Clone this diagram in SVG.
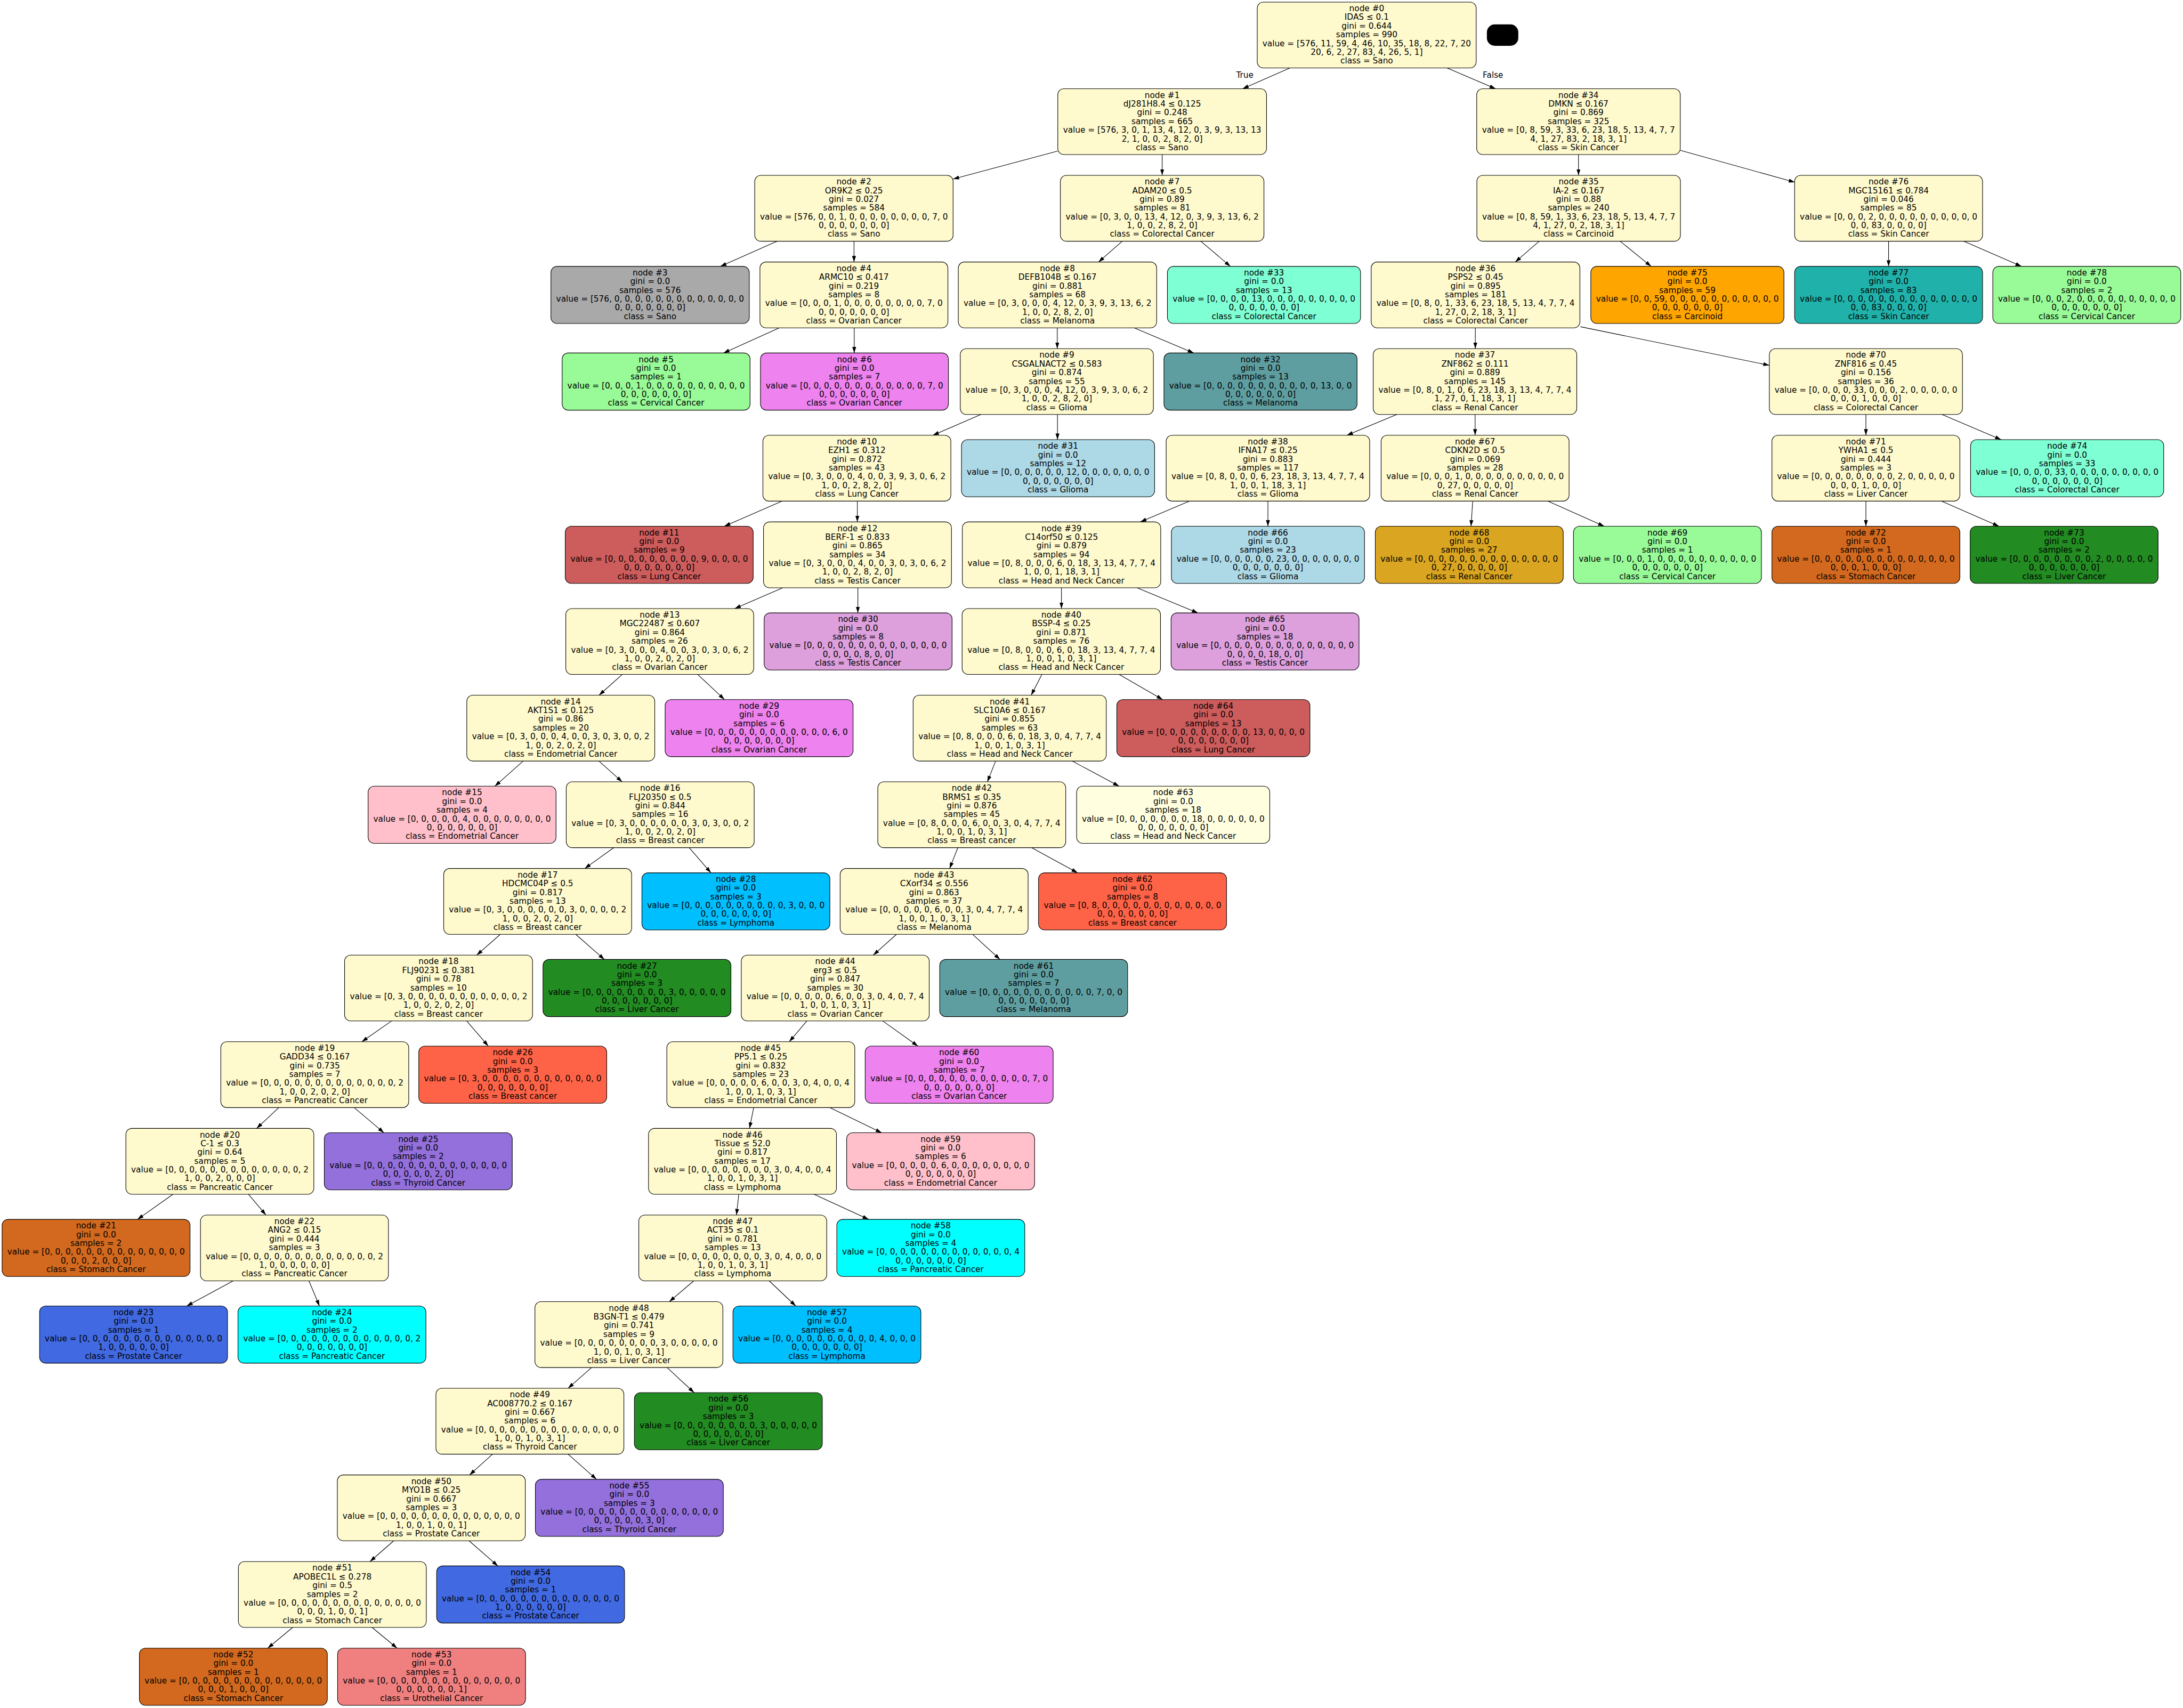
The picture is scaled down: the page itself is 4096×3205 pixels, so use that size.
<svg xmlns="http://www.w3.org/2000/svg" width="4096" height="3205" viewBox="0 0 4096 3205">
<style>
.nd rect{stroke:#000;stroke-width:1.34}
text{font-family:"DejaVu Sans","Liberation Sans",sans-serif;font-size:18.7px;text-anchor:middle;fill:#000}
.e line{stroke:#000;stroke-width:1.34;marker-end:url(#arr)}
.i{fill:#fffacd}.sano{fill:#a9a9a9}.cerv{fill:#98fb98}.ova{fill:#ee82ee}.colo{fill:#7fffd4}.mel{fill:#5f9ea0}.gli{fill:#add8e6}.lung{fill:#cd5c5c}.test{fill:#dda0dd}.endo{fill:#ffc0cb}.lym{fill:#00bfff}.liv{fill:#228b22}.bre{fill:#ff6347}.thy{fill:#9370db}.sto{fill:#d2691e}.pro{fill:#4169e1}.pan{fill:#00ffff}.uro{fill:#f08080}.carc{fill:#ffa500}.skin{fill:#20b2aa}.ren{fill:#daa520}.hn{fill:#ffffe0}
</style>
<defs>
<marker id="arr" markerUnits="userSpaceOnUse" viewBox="0 0 14 10" refX="14" refY="5" markerWidth="14" markerHeight="10" orient="auto"><path d="M0,0.5 L14,5 L0,9.5 z" fill="#000"/></marker>
</defs>
<rect x="0" y="0" width="4096" height="3205" fill="#fff"/>
<g transform="scale(0.818382)">
<g id="edges" class="e">
<line x1="2957.5" y1="155.8" x2="2849" y2="203.5"/>
<line x1="3317.5" y1="155.8" x2="3429" y2="203.5"/>
<line x1="2425" y1="346.5" x2="2185" y2="410.5"/>
<line x1="2664.5" y1="354.5" x2="2664.5" y2="402"/>
<line x1="3619" y1="354.5" x2="3619" y2="402"/>
<line x1="3852" y1="344.7" x2="4115" y2="417.8"/>
<line x1="1781.4" y1="553.1" x2="1651.8" y2="610.8"/>
<line x1="1958" y1="553.1" x2="1958" y2="600.8"/>
<line x1="2573" y1="553.1" x2="2518.6" y2="600.8"/>
<line x1="2753" y1="553.1" x2="2821" y2="610.8"/>
<line x1="3529" y1="553.1" x2="3474" y2="600.8"/>
<line x1="3714.5" y1="553.1" x2="3785.6" y2="610.8"/>
<line x1="4330" y1="553.1" x2="4330" y2="610.8"/>
<line x1="4502.6" y1="553.1" x2="4634.7" y2="610.8"/>
<line x1="1786.6" y1="751.8" x2="1658.8" y2="809.4"/>
<line x1="1958.5" y1="751.8" x2="1958.5" y2="809.4"/>
<line x1="2424" y1="751.8" x2="2424" y2="799.4"/>
<line x1="2600.4" y1="751.8" x2="2737" y2="809.4"/>
<line x1="3382.5" y1="751.8" x2="3382.5" y2="799.4"/>
<line x1="3623.6" y1="749.2" x2="4056.7" y2="837.7"/>
<line x1="2248.8" y1="950.4" x2="2138.8" y2="998"/>
<line x1="2424.5" y1="950.4" x2="2424.5" y2="1008"/>
<line x1="3202.4" y1="950.4" x2="3088" y2="998"/>
<line x1="3382" y1="950.4" x2="3382" y2="998"/>
<line x1="4278" y1="950.4" x2="4278" y2="998"/>
<line x1="4452.4" y1="950.4" x2="4588" y2="1008"/>
<line x1="1793.3" y1="1149" x2="1660.7" y2="1206.7"/>
<line x1="1965.6" y1="1149" x2="1965.6" y2="1196.7"/>
<line x1="2727.4" y1="1149" x2="2614.6" y2="1196.7"/>
<line x1="2907" y1="1149" x2="2907" y2="1206.7"/>
<line x1="3376.5" y1="1149" x2="3372.7" y2="1206.7"/>
<line x1="3548.7" y1="1149" x2="3678" y2="1206.7"/>
<line x1="4278" y1="1149" x2="4278" y2="1206.7"/>
<line x1="4451" y1="1149" x2="4583" y2="1206.7"/>
<line x1="1794.5" y1="1347.7" x2="1684.5" y2="1395.4"/>
<line x1="1966.8" y1="1347.7" x2="1966.8" y2="1405.4"/>
<line x1="2433.6" y1="1347.7" x2="2433.6" y2="1395.4"/>
<line x1="2607" y1="1347.7" x2="2746.5" y2="1405.4"/>
<line x1="1426.7" y1="1546.4" x2="1373.5" y2="1594"/>
<line x1="1599.6" y1="1546.4" x2="1661" y2="1604"/>
<line x1="2388.8" y1="1546.4" x2="2364.2" y2="1594"/>
<line x1="2565.9" y1="1546.4" x2="2665.6" y2="1604"/>
<line x1="1199.5" y1="1745" x2="1134.5" y2="1802.7"/>
<line x1="1373.2" y1="1745" x2="1426.5" y2="1792.7"/>
<line x1="2282.6" y1="1745" x2="2263.8" y2="1792.7"/>
<line x1="2458.2" y1="1745" x2="2565.9" y2="1802.7"/>
<line x1="1407" y1="1943.7" x2="1340.7" y2="1991.3"/>
<line x1="1580.1" y1="1943.7" x2="1630" y2="2001.3"/>
<line x1="2196" y1="1943.7" x2="2177.2" y2="1991.3"/>
<line x1="2365.5" y1="1943.7" x2="2470.6" y2="2001.3"/>
<line x1="1147" y1="2142.3" x2="1093" y2="2190"/>
<line x1="1320" y1="2142.3" x2="1385.7" y2="2200"/>
<line x1="2055.5" y1="2142.3" x2="2002.1" y2="2190"/>
<line x1="2229.8" y1="2142.3" x2="2292.8" y2="2200"/>
<line x1="897.7" y1="2341" x2="829.5" y2="2388.6"/>
<line x1="1070.1" y1="2341" x2="1119.5" y2="2398.6"/>
<line x1="1849.8" y1="2341" x2="1809.5" y2="2388.6"/>
<line x1="2024" y1="2341" x2="2104.6" y2="2398.6"/>
<line x1="639.3" y1="2539.6" x2="588.3" y2="2587.3"/>
<line x1="812.1" y1="2539.6" x2="880.2" y2="2597.3"/>
<line x1="1728" y1="2539.6" x2="1718.4" y2="2587.3"/>
<line x1="1902.3" y1="2539.6" x2="2021.4" y2="2597.3"/>
<line x1="396.7" y1="2738.3" x2="315.2" y2="2795.9"/>
<line x1="569.5" y1="2738.3" x2="609.8" y2="2785.9"/>
<line x1="1693.8" y1="2738.3" x2="1688.5" y2="2785.9"/>
<line x1="1866.3" y1="2738.3" x2="1991.5" y2="2795.9"/>
<line x1="534.6" y1="2936.9" x2="428" y2="2994.6"/>
<line x1="708.3" y1="2936.9" x2="732.4" y2="2994.6"/>
<line x1="1590.5" y1="2936.9" x2="1534.5" y2="2984.6"/>
<line x1="1763.5" y1="2936.9" x2="1824.6" y2="2994.6"/>
<line x1="1356.4" y1="3135.6" x2="1302.4" y2="3183.2"/>
<line x1="1529.4" y1="3135.6" x2="1591.5" y2="3193.2"/>
<line x1="1129.4" y1="3334.2" x2="1076.5" y2="3381.9"/>
<line x1="1302.4" y1="3334.2" x2="1367.6" y2="3391.9"/>
<line x1="902.7" y1="3532.9" x2="848.2" y2="3580.5"/>
<line x1="1075.4" y1="3532.9" x2="1141.4" y2="3590.5"/>
<line x1="671.2" y1="3731.5" x2="613.8" y2="3779.1"/>
<line x1="853" y1="3731.5" x2="910.5" y2="3779.1"/>
</g>
<g id="edge-labels">
<text x="2854" y="178.4">True</text>
<text x="3423" y="178.4">False</text>
</g>
<rect id="legend-box" x="3409" y="56" width="72" height="49" rx="18" fill="#000"/>
<g id="node-0" class="nd"><rect class="i" x="2882.5" y="4.8" width="502" height="151" rx="14"/><text y="25.8"><tspan x="3133.5">node #0</tspan><tspan x="3133.5" dy="20">IDAS ≤ 0.1</tspan><tspan x="3133.5" dy="20">gini = 0.644</tspan><tspan x="3133.5" dy="20">samples = 990</tspan><tspan x="3133.5" dy="20">value = [576, 11, 59, 4, 46, 10, 35, 18, 8, 22, 7, 20</tspan><tspan x="3133.5" dy="20">20, 6, 2, 27, 83, 4, 26, 5, 1]</tspan><tspan x="3133.5" dy="20">class = Sano</tspan></text></g>
<g id="node-1" class="nd"><rect class="i" x="2425.2" y="203.45" width="478.6" height="151" rx="14"/><text y="224.45"><tspan x="2664.5">node #1</tspan><tspan x="2664.5" dy="20">dJ281H8.4 ≤ 0.125</tspan><tspan x="2664.5" dy="20">gini = 0.248</tspan><tspan x="2664.5" dy="20">samples = 665</tspan><tspan x="2664.5" dy="20">value = [576, 3, 0, 1, 13, 4, 12, 0, 3, 9, 3, 13, 13</tspan><tspan x="2664.5" dy="20">2, 1, 0, 0, 2, 8, 2, 0]</tspan><tspan x="2664.5" dy="20">class = Sano</tspan></text></g>
<g id="node-34" class="nd"><rect class="i" x="3385.65" y="203.45" width="466.7" height="151" rx="14"/><text y="224.45"><tspan x="3619">node #34</tspan><tspan x="3619" dy="20">DMKN ≤ 0.167</tspan><tspan x="3619" dy="20">gini = 0.869</tspan><tspan x="3619" dy="20">samples = 325</tspan><tspan x="3619" dy="20">value = [0, 8, 59, 3, 33, 6, 23, 18, 5, 13, 4, 7, 7</tspan><tspan x="3619" dy="20">4, 1, 27, 83, 2, 18, 3, 1]</tspan><tspan x="3619" dy="20">class = Skin Cancer</tspan></text></g>
<g id="node-2" class="nd"><rect class="i" x="1730.4" y="402.1" width="454.8" height="151" rx="14"/><text y="423.1"><tspan x="1957.8">node #2</tspan><tspan x="1957.8" dy="20">OR9K2 ≤ 0.25</tspan><tspan x="1957.8" dy="20">gini = 0.027</tspan><tspan x="1957.8" dy="20">samples = 584</tspan><tspan x="1957.8" dy="20">value = [576, 0, 0, 1, 0, 0, 0, 0, 0, 0, 0, 0, 7, 0</tspan><tspan x="1957.8" dy="20">0, 0, 0, 0, 0, 0, 0]</tspan><tspan x="1957.8" dy="20">class = Sano</tspan></text></g>
<g id="node-7" class="nd"><rect class="i" x="2431.15" y="402.1" width="466.7" height="151" rx="14"/><text y="423.1"><tspan x="2664.5">node #7</tspan><tspan x="2664.5" dy="20">ADAM20 ≤ 0.5</tspan><tspan x="2664.5" dy="20">gini = 0.89</tspan><tspan x="2664.5" dy="20">samples = 81</tspan><tspan x="2664.5" dy="20">value = [0, 3, 0, 0, 13, 4, 12, 0, 3, 9, 3, 13, 6, 2</tspan><tspan x="2664.5" dy="20">1, 0, 0, 2, 8, 2, 0]</tspan><tspan x="2664.5" dy="20">class = Colorectal Cancer</tspan></text></g>
<g id="node-35" class="nd"><rect class="i" x="3386.05" y="402.1" width="466.7" height="151" rx="14"/><text y="423.1"><tspan x="3619.4">node #35</tspan><tspan x="3619.4" dy="20">IA-2 ≤ 0.167</tspan><tspan x="3619.4" dy="20">gini = 0.88</tspan><tspan x="3619.4" dy="20">samples = 240</tspan><tspan x="3619.4" dy="20">value = [0, 8, 59, 1, 33, 6, 23, 18, 5, 13, 4, 7, 7</tspan><tspan x="3619.4" dy="20">4, 1, 27, 0, 2, 18, 3, 1]</tspan><tspan x="3619.4" dy="20">class = Carcinoid</tspan></text></g>
<g id="node-76" class="nd"><rect class="i" x="4114.55" y="402.1" width="430.9" height="151" rx="14"/><text y="423.1"><tspan x="4330">node #76</tspan><tspan x="4330" dy="20">MGC15161 ≤ 0.784</tspan><tspan x="4330" dy="20">gini = 0.046</tspan><tspan x="4330" dy="20">samples = 85</tspan><tspan x="4330" dy="20">value = [0, 0, 0, 2, 0, 0, 0, 0, 0, 0, 0, 0, 0, 0</tspan><tspan x="4330" dy="20">0, 0, 83, 0, 0, 0, 0]</tspan><tspan x="4330" dy="20">class = Skin Cancer</tspan></text></g>
<g id="node-3" class="nd"><rect class="sano" x="1263.1" y="610.75" width="454.8" height="131" rx="14"/><text y="631.75"><tspan x="1490.5">node #3</tspan><tspan x="1490.5" dy="20">gini = 0.0</tspan><tspan x="1490.5" dy="20">samples = 576</tspan><tspan x="1490.5" dy="20">value = [576, 0, 0, 0, 0, 0, 0, 0, 0, 0, 0, 0, 0, 0</tspan><tspan x="1490.5" dy="20">0, 0, 0, 0, 0, 0, 0]</tspan><tspan x="1490.5" dy="20">class = Sano</tspan></text></g>
<g id="node-4" class="nd"><rect class="i" x="1742.35" y="600.75" width="430.9" height="151" rx="14"/><text y="621.75"><tspan x="1957.8">node #4</tspan><tspan x="1957.8" dy="20">ARMC10 ≤ 0.417</tspan><tspan x="1957.8" dy="20">gini = 0.219</tspan><tspan x="1957.8" dy="20">samples = 8</tspan><tspan x="1957.8" dy="20">value = [0, 0, 0, 1, 0, 0, 0, 0, 0, 0, 0, 0, 7, 0</tspan><tspan x="1957.8" dy="20">0, 0, 0, 0, 0, 0, 0]</tspan><tspan x="1957.8" dy="20">class = Ovarian Cancer</tspan></text></g>
<g id="node-8" class="nd"><rect class="i" x="2197.1" y="600.75" width="454.8" height="151" rx="14"/><text y="621.75"><tspan x="2424.5">node #8</tspan><tspan x="2424.5" dy="20">DEFB104B ≤ 0.167</tspan><tspan x="2424.5" dy="20">gini = 0.881</tspan><tspan x="2424.5" dy="20">samples = 68</tspan><tspan x="2424.5" dy="20">value = [0, 3, 0, 0, 0, 4, 12, 0, 3, 9, 3, 13, 6, 2</tspan><tspan x="2424.5" dy="20">1, 0, 0, 2, 8, 2, 0]</tspan><tspan x="2424.5" dy="20">class = Melanoma</tspan></text></g>
<g id="node-33" class="nd"><rect class="colo" x="2676.6" y="610.75" width="442.8" height="131" rx="14"/><text y="631.75"><tspan x="2898">node #33</tspan><tspan x="2898" dy="20">gini = 0.0</tspan><tspan x="2898" dy="20">samples = 13</tspan><tspan x="2898" dy="20">value = [0, 0, 0, 0, 13, 0, 0, 0, 0, 0, 0, 0, 0, 0</tspan><tspan x="2898" dy="20">0, 0, 0, 0, 0, 0, 0]</tspan><tspan x="2898" dy="20">class = Colorectal Cancer</tspan></text></g>
<g id="node-36" class="nd"><rect class="i" x="3143.7" y="600.75" width="478.6" height="151" rx="14"/><text y="621.75"><tspan x="3383">node #36</tspan><tspan x="3383" dy="20">PSPS2 ≤ 0.45</tspan><tspan x="3383" dy="20">gini = 0.895</tspan><tspan x="3383" dy="20">samples = 181</tspan><tspan x="3383" dy="20">value = [0, 8, 0, 1, 33, 6, 23, 18, 5, 13, 4, 7, 7, 4</tspan><tspan x="3383" dy="20">1, 27, 0, 2, 18, 3, 1]</tspan><tspan x="3383" dy="20">class = Colorectal Cancer</tspan></text></g>
<g id="node-75" class="nd"><rect class="carc" x="3647.3" y="610.75" width="442.8" height="131" rx="14"/><text y="631.75"><tspan x="3868.7">node #75</tspan><tspan x="3868.7" dy="20">gini = 0.0</tspan><tspan x="3868.7" dy="20">samples = 59</tspan><tspan x="3868.7" dy="20">value = [0, 0, 59, 0, 0, 0, 0, 0, 0, 0, 0, 0, 0, 0</tspan><tspan x="3868.7" dy="20">0, 0, 0, 0, 0, 0, 0]</tspan><tspan x="3868.7" dy="20">class = Carcinoid</tspan></text></g>
<g id="node-77" class="nd"><rect class="skin" x="4114.55" y="610.75" width="430.9" height="131" rx="14"/><text y="631.75"><tspan x="4330">node #77</tspan><tspan x="4330" dy="20">gini = 0.0</tspan><tspan x="4330" dy="20">samples = 83</tspan><tspan x="4330" dy="20">value = [0, 0, 0, 0, 0, 0, 0, 0, 0, 0, 0, 0, 0, 0</tspan><tspan x="4330" dy="20">0, 0, 83, 0, 0, 0, 0]</tspan><tspan x="4330" dy="20">class = Skin Cancer</tspan></text></g>
<g id="node-78" class="nd"><rect class="cerv" x="4568.95" y="610.75" width="430.9" height="131" rx="14"/><text y="631.75"><tspan x="4784.4">node #78</tspan><tspan x="4784.4" dy="20">gini = 0.0</tspan><tspan x="4784.4" dy="20">samples = 2</tspan><tspan x="4784.4" dy="20">value = [0, 0, 0, 2, 0, 0, 0, 0, 0, 0, 0, 0, 0, 0</tspan><tspan x="4784.4" dy="20">0, 0, 0, 0, 0, 0, 0]</tspan><tspan x="4784.4" dy="20">class = Cervical Cancer</tspan></text></g>
<g id="node-5" class="nd"><rect class="cerv" x="1288.85" y="809.4" width="430.9" height="131" rx="14"/><text y="830.4"><tspan x="1504.3">node #5</tspan><tspan x="1504.3" dy="20">gini = 0.0</tspan><tspan x="1504.3" dy="20">samples = 1</tspan><tspan x="1504.3" dy="20">value = [0, 0, 0, 1, 0, 0, 0, 0, 0, 0, 0, 0, 0, 0</tspan><tspan x="1504.3" dy="20">0, 0, 0, 0, 0, 0, 0]</tspan><tspan x="1504.3" dy="20">class = Cervical Cancer</tspan></text></g>
<g id="node-6" class="nd"><rect class="ova" x="1743.55" y="809.4" width="430.9" height="131" rx="14"/><text y="830.4"><tspan x="1959">node #6</tspan><tspan x="1959" dy="20">gini = 0.0</tspan><tspan x="1959" dy="20">samples = 7</tspan><tspan x="1959" dy="20">value = [0, 0, 0, 0, 0, 0, 0, 0, 0, 0, 0, 0, 7, 0</tspan><tspan x="1959" dy="20">0, 0, 0, 0, 0, 0, 0]</tspan><tspan x="1959" dy="20">class = Ovarian Cancer</tspan></text></g>
<g id="node-9" class="nd"><rect class="i" x="2201.6" y="799.4" width="442.8" height="151" rx="14"/><text y="820.4"><tspan x="2423">node #9</tspan><tspan x="2423" dy="20">CSGALNACT2 ≤ 0.583</tspan><tspan x="2423" dy="20">gini = 0.874</tspan><tspan x="2423" dy="20">samples = 55</tspan><tspan x="2423" dy="20">value = [0, 3, 0, 0, 0, 4, 12, 0, 3, 9, 3, 0, 6, 2</tspan><tspan x="2423" dy="20">1, 0, 0, 2, 8, 2, 0]</tspan><tspan x="2423" dy="20">class = Glioma</tspan></text></g>
<g id="node-32" class="nd"><rect class="mel" x="2668.6" y="809.4" width="442.8" height="131" rx="14"/><text y="830.4"><tspan x="2890">node #32</tspan><tspan x="2890" dy="20">gini = 0.0</tspan><tspan x="2890" dy="20">samples = 13</tspan><tspan x="2890" dy="20">value = [0, 0, 0, 0, 0, 0, 0, 0, 0, 0, 0, 13, 0, 0</tspan><tspan x="2890" dy="20">0, 0, 0, 0, 0, 0, 0]</tspan><tspan x="2890" dy="20">class = Melanoma</tspan></text></g>
<g id="node-37" class="nd"><rect class="i" x="3148.35" y="799.4" width="466.7" height="151" rx="14"/><text y="820.4"><tspan x="3381.7">node #37</tspan><tspan x="3381.7" dy="20">ZNF862 ≤ 0.111</tspan><tspan x="3381.7" dy="20">gini = 0.889</tspan><tspan x="3381.7" dy="20">samples = 145</tspan><tspan x="3381.7" dy="20">value = [0, 8, 0, 1, 0, 6, 23, 18, 3, 13, 4, 7, 7, 4</tspan><tspan x="3381.7" dy="20">1, 27, 0, 1, 18, 3, 1]</tspan><tspan x="3381.7" dy="20">class = Renal Cancer</tspan></text></g>
<g id="node-70" class="nd"><rect class="i" x="4056.6" y="799.4" width="442.8" height="151" rx="14"/><text y="820.4"><tspan x="4278">node #70</tspan><tspan x="4278" dy="20">ZNF816 ≤ 0.45</tspan><tspan x="4278" dy="20">gini = 0.156</tspan><tspan x="4278" dy="20">samples = 36</tspan><tspan x="4278" dy="20">value = [0, 0, 0, 0, 33, 0, 0, 0, 2, 0, 0, 0, 0, 0</tspan><tspan x="4278" dy="20">0, 0, 0, 1, 0, 0, 0]</tspan><tspan x="4278" dy="20">class = Colorectal Cancer</tspan></text></g>
<g id="node-10" class="nd"><rect class="i" x="1749.15" y="998.05" width="430.9" height="151" rx="14"/><text y="1019.05"><tspan x="1964.6">node #10</tspan><tspan x="1964.6" dy="20">EZH1 ≤ 0.312</tspan><tspan x="1964.6" dy="20">gini = 0.872</tspan><tspan x="1964.6" dy="20">samples = 43</tspan><tspan x="1964.6" dy="20">value = [0, 3, 0, 0, 0, 4, 0, 0, 3, 9, 3, 0, 6, 2</tspan><tspan x="1964.6" dy="20">1, 0, 0, 2, 8, 2, 0]</tspan><tspan x="1964.6" dy="20">class = Lung Cancer</tspan></text></g>
<g id="node-31" class="nd"><rect class="gli" x="2204.4" y="1008.05" width="442.8" height="131" rx="14"/><text y="1029.05"><tspan x="2425.8">node #31</tspan><tspan x="2425.8" dy="20">gini = 0.0</tspan><tspan x="2425.8" dy="20">samples = 12</tspan><tspan x="2425.8" dy="20">value = [0, 0, 0, 0, 0, 0, 12, 0, 0, 0, 0, 0, 0, 0</tspan><tspan x="2425.8" dy="20">0, 0, 0, 0, 0, 0, 0]</tspan><tspan x="2425.8" dy="20">class = Glioma</tspan></text></g>
<g id="node-38" class="nd"><rect class="i" x="2673.65" y="998.05" width="466.7" height="151" rx="14"/><text y="1019.05"><tspan x="2907">node #38</tspan><tspan x="2907" dy="20">IFNA17 ≤ 0.25</tspan><tspan x="2907" dy="20">gini = 0.883</tspan><tspan x="2907" dy="20">samples = 117</tspan><tspan x="2907" dy="20">value = [0, 8, 0, 0, 0, 6, 23, 18, 3, 13, 4, 7, 7, 4</tspan><tspan x="2907" dy="20">1, 0, 0, 1, 18, 3, 1]</tspan><tspan x="2907" dy="20">class = Glioma</tspan></text></g>
<g id="node-67" class="nd"><rect class="i" x="3166.55" y="998.05" width="430.9" height="151" rx="14"/><text y="1019.05"><tspan x="3382">node #67</tspan><tspan x="3382" dy="20">CDKN2D ≤ 0.5</tspan><tspan x="3382" dy="20">gini = 0.069</tspan><tspan x="3382" dy="20">samples = 28</tspan><tspan x="3382" dy="20">value = [0, 0, 0, 1, 0, 0, 0, 0, 0, 0, 0, 0, 0, 0</tspan><tspan x="3382" dy="20">0, 27, 0, 0, 0, 0, 0]</tspan><tspan x="3382" dy="20">class = Renal Cancer</tspan></text></g>
<g id="node-71" class="nd"><rect class="i" x="4062.55" y="998.05" width="430.9" height="151" rx="14"/><text y="1019.05"><tspan x="4278">node #71</tspan><tspan x="4278" dy="20">YWHA1 ≤ 0.5</tspan><tspan x="4278" dy="20">gini = 0.444</tspan><tspan x="4278" dy="20">samples = 3</tspan><tspan x="4278" dy="20">value = [0, 0, 0, 0, 0, 0, 0, 0, 2, 0, 0, 0, 0, 0</tspan><tspan x="4278" dy="20">0, 0, 0, 1, 0, 0, 0]</tspan><tspan x="4278" dy="20">class = Liver Cancer</tspan></text></g>
<g id="node-74" class="nd"><rect class="colo" x="4518" y="1008.05" width="442.8" height="131" rx="14"/><text y="1029.05"><tspan x="4739.4">node #74</tspan><tspan x="4739.4" dy="20">gini = 0.0</tspan><tspan x="4739.4" dy="20">samples = 33</tspan><tspan x="4739.4" dy="20">value = [0, 0, 0, 0, 33, 0, 0, 0, 0, 0, 0, 0, 0, 0</tspan><tspan x="4739.4" dy="20">0, 0, 0, 0, 0, 0, 0]</tspan><tspan x="4739.4" dy="20">class = Colorectal Cancer</tspan></text></g>
<g id="node-11" class="nd"><rect class="lung" x="1295.95" y="1206.7" width="430.9" height="131" rx="14"/><text y="1227.7"><tspan x="1511.4">node #11</tspan><tspan x="1511.4" dy="20">gini = 0.0</tspan><tspan x="1511.4" dy="20">samples = 9</tspan><tspan x="1511.4" dy="20">value = [0, 0, 0, 0, 0, 0, 0, 0, 0, 9, 0, 0, 0, 0</tspan><tspan x="1511.4" dy="20">0, 0, 0, 0, 0, 0, 0]</tspan><tspan x="1511.4" dy="20">class = Lung Cancer</tspan></text></g>
<g id="node-12" class="nd"><rect class="i" x="1750.55" y="1196.7" width="430.9" height="151" rx="14"/><text y="1217.7"><tspan x="1966">node #12</tspan><tspan x="1966" dy="20">BERF-1 ≤ 0.833</tspan><tspan x="1966" dy="20">gini = 0.865</tspan><tspan x="1966" dy="20">samples = 34</tspan><tspan x="1966" dy="20">value = [0, 3, 0, 0, 0, 4, 0, 0, 3, 0, 3, 0, 6, 2</tspan><tspan x="1966" dy="20">1, 0, 0, 2, 8, 2, 0]</tspan><tspan x="1966" dy="20">class = Testis Cancer</tspan></text></g>
<g id="node-39" class="nd"><rect class="i" x="2206.4" y="1196.7" width="454.8" height="151" rx="14"/><text y="1217.7"><tspan x="2433.8">node #39</tspan><tspan x="2433.8" dy="20">C14orf50 ≤ 0.125</tspan><tspan x="2433.8" dy="20">gini = 0.879</tspan><tspan x="2433.8" dy="20">samples = 94</tspan><tspan x="2433.8" dy="20">value = [0, 8, 0, 0, 0, 6, 0, 18, 3, 13, 4, 7, 7, 4</tspan><tspan x="2433.8" dy="20">1, 0, 0, 1, 18, 3, 1]</tspan><tspan x="2433.8" dy="20">class = Head and Neck Cancer</tspan></text></g>
<g id="node-66" class="nd"><rect class="gli" x="2685.6" y="1206.7" width="442.8" height="131" rx="14"/><text y="1227.7"><tspan x="2907">node #66</tspan><tspan x="2907" dy="20">gini = 0.0</tspan><tspan x="2907" dy="20">samples = 23</tspan><tspan x="2907" dy="20">value = [0, 0, 0, 0, 0, 0, 23, 0, 0, 0, 0, 0, 0, 0</tspan><tspan x="2907" dy="20">0, 0, 0, 0, 0, 0, 0]</tspan><tspan x="2907" dy="20">class = Glioma</tspan></text></g>
<g id="node-68" class="nd"><rect class="ren" x="3153.15" y="1206.7" width="430.9" height="131" rx="14"/><text y="1227.7"><tspan x="3368.6">node #68</tspan><tspan x="3368.6" dy="20">gini = 0.0</tspan><tspan x="3368.6" dy="20">samples = 27</tspan><tspan x="3368.6" dy="20">value = [0, 0, 0, 0, 0, 0, 0, 0, 0, 0, 0, 0, 0, 0</tspan><tspan x="3368.6" dy="20">0, 27, 0, 0, 0, 0, 0]</tspan><tspan x="3368.6" dy="20">class = Renal Cancer</tspan></text></g>
<g id="node-69" class="nd"><rect class="cerv" x="3607.55" y="1206.7" width="430.9" height="131" rx="14"/><text y="1227.7"><tspan x="3823">node #69</tspan><tspan x="3823" dy="20">gini = 0.0</tspan><tspan x="3823" dy="20">samples = 1</tspan><tspan x="3823" dy="20">value = [0, 0, 0, 1, 0, 0, 0, 0, 0, 0, 0, 0, 0, 0</tspan><tspan x="3823" dy="20">0, 0, 0, 0, 0, 0, 0]</tspan><tspan x="3823" dy="20">class = Cervical Cancer</tspan></text></g>
<g id="node-72" class="nd"><rect class="sto" x="4062.55" y="1206.7" width="430.9" height="131" rx="14"/><text y="1227.7"><tspan x="4278">node #72</tspan><tspan x="4278" dy="20">gini = 0.0</tspan><tspan x="4278" dy="20">samples = 1</tspan><tspan x="4278" dy="20">value = [0, 0, 0, 0, 0, 0, 0, 0, 0, 0, 0, 0, 0, 0</tspan><tspan x="4278" dy="20">0, 0, 0, 1, 0, 0, 0]</tspan><tspan x="4278" dy="20">class = Stomach Cancer</tspan></text></g>
<g id="node-73" class="nd"><rect class="liv" x="4517.05" y="1206.7" width="430.9" height="131" rx="14"/><text y="1227.7"><tspan x="4732.5">node #73</tspan><tspan x="4732.5" dy="20">gini = 0.0</tspan><tspan x="4732.5" dy="20">samples = 2</tspan><tspan x="4732.5" dy="20">value = [0, 0, 0, 0, 0, 0, 0, 0, 2, 0, 0, 0, 0, 0</tspan><tspan x="4732.5" dy="20">0, 0, 0, 0, 0, 0, 0]</tspan><tspan x="4732.5" dy="20">class = Liver Cancer</tspan></text></g>
<g id="node-13" class="nd"><rect class="i" x="1297.15" y="1395.35" width="430.9" height="151" rx="14"/><text y="1416.35"><tspan x="1512.6">node #13</tspan><tspan x="1512.6" dy="20">MGC22487 ≤ 0.607</tspan><tspan x="1512.6" dy="20">gini = 0.864</tspan><tspan x="1512.6" dy="20">samples = 26</tspan><tspan x="1512.6" dy="20">value = [0, 3, 0, 0, 0, 4, 0, 0, 3, 0, 3, 0, 6, 2</tspan><tspan x="1512.6" dy="20">1, 0, 0, 2, 0, 2, 0]</tspan><tspan x="1512.6" dy="20">class = Ovarian Cancer</tspan></text></g>
<g id="node-30" class="nd"><rect class="test" x="1751.95" y="1405.35" width="430.9" height="131" rx="14"/><text y="1426.35"><tspan x="1967.4">node #30</tspan><tspan x="1967.4" dy="20">gini = 0.0</tspan><tspan x="1967.4" dy="20">samples = 8</tspan><tspan x="1967.4" dy="20">value = [0, 0, 0, 0, 0, 0, 0, 0, 0, 0, 0, 0, 0, 0</tspan><tspan x="1967.4" dy="20">0, 0, 0, 0, 8, 0, 0]</tspan><tspan x="1967.4" dy="20">class = Testis Cancer</tspan></text></g>
<g id="node-40" class="nd"><rect class="i" x="2205.9" y="1395.35" width="454.8" height="151" rx="14"/><text y="1416.35"><tspan x="2433.3">node #40</tspan><tspan x="2433.3" dy="20">BSSP-4 ≤ 0.25</tspan><tspan x="2433.3" dy="20">gini = 0.871</tspan><tspan x="2433.3" dy="20">samples = 76</tspan><tspan x="2433.3" dy="20">value = [0, 8, 0, 0, 0, 6, 0, 18, 3, 13, 4, 7, 7, 4</tspan><tspan x="2433.3" dy="20">1, 0, 0, 1, 0, 3, 1]</tspan><tspan x="2433.3" dy="20">class = Head and Neck Cancer</tspan></text></g>
<g id="node-65" class="nd"><rect class="test" x="2684.95" y="1405.35" width="430.9" height="131" rx="14"/><text y="1426.35"><tspan x="2900.4">node #65</tspan><tspan x="2900.4" dy="20">gini = 0.0</tspan><tspan x="2900.4" dy="20">samples = 18</tspan><tspan x="2900.4" dy="20">value = [0, 0, 0, 0, 0, 0, 0, 0, 0, 0, 0, 0, 0, 0</tspan><tspan x="2900.4" dy="20">0, 0, 0, 0, 18, 0, 0]</tspan><tspan x="2900.4" dy="20">class = Testis Cancer</tspan></text></g>
<g id="node-14" class="nd"><rect class="i" x="1070.25" y="1594" width="430.9" height="151" rx="14"/><text y="1615"><tspan x="1285.7">node #14</tspan><tspan x="1285.7" dy="20">AKT1S1 ≤ 0.125</tspan><tspan x="1285.7" dy="20">gini = 0.86</tspan><tspan x="1285.7" dy="20">samples = 20</tspan><tspan x="1285.7" dy="20">value = [0, 3, 0, 0, 0, 4, 0, 0, 3, 0, 3, 0, 0, 2</tspan><tspan x="1285.7" dy="20">1, 0, 0, 2, 0, 2, 0]</tspan><tspan x="1285.7" dy="20">class = Endometrial Cancer</tspan></text></g>
<g id="node-29" class="nd"><rect class="ova" x="1524.95" y="1604" width="430.9" height="131" rx="14"/><text y="1625"><tspan x="1740.4">node #29</tspan><tspan x="1740.4" dy="20">gini = 0.0</tspan><tspan x="1740.4" dy="20">samples = 6</tspan><tspan x="1740.4" dy="20">value = [0, 0, 0, 0, 0, 0, 0, 0, 0, 0, 0, 0, 6, 0</tspan><tspan x="1740.4" dy="20">0, 0, 0, 0, 0, 0, 0]</tspan><tspan x="1740.4" dy="20">class = Ovarian Cancer</tspan></text></g>
<g id="node-41" class="nd"><rect class="i" x="2093.6" y="1594" width="442.8" height="151" rx="14"/><text y="1615"><tspan x="2315">node #41</tspan><tspan x="2315" dy="20">SLC10A6 ≤ 0.167</tspan><tspan x="2315" dy="20">gini = 0.855</tspan><tspan x="2315" dy="20">samples = 63</tspan><tspan x="2315" dy="20">value = [0, 8, 0, 0, 0, 6, 0, 18, 3, 0, 4, 7, 7, 4</tspan><tspan x="2315" dy="20">1, 0, 0, 1, 0, 3, 1]</tspan><tspan x="2315" dy="20">class = Head and Neck Cancer</tspan></text></g>
<g id="node-64" class="nd"><rect class="lung" x="2560.5" y="1604" width="442.8" height="131" rx="14"/><text y="1625"><tspan x="2781.9">node #64</tspan><tspan x="2781.9" dy="20">gini = 0.0</tspan><tspan x="2781.9" dy="20">samples = 13</tspan><tspan x="2781.9" dy="20">value = [0, 0, 0, 0, 0, 0, 0, 0, 0, 13, 0, 0, 0, 0</tspan><tspan x="2781.9" dy="20">0, 0, 0, 0, 0, 0, 0]</tspan><tspan x="2781.9" dy="20">class = Lung Cancer</tspan></text></g>
<g id="node-15" class="nd"><rect class="endo" x="843.95" y="1802.65" width="430.9" height="131" rx="14"/><text y="1823.65"><tspan x="1059.4">node #15</tspan><tspan x="1059.4" dy="20">gini = 0.0</tspan><tspan x="1059.4" dy="20">samples = 4</tspan><tspan x="1059.4" dy="20">value = [0, 0, 0, 0, 0, 4, 0, 0, 0, 0, 0, 0, 0, 0</tspan><tspan x="1059.4" dy="20">0, 0, 0, 0, 0, 0, 0]</tspan><tspan x="1059.4" dy="20">class = Endometrial Cancer</tspan></text></g>
<g id="node-16" class="nd"><rect class="i" x="1298.25" y="1792.65" width="430.9" height="151" rx="14"/><text y="1813.65"><tspan x="1513.7">node #16</tspan><tspan x="1513.7" dy="20">FLJ20350 ≤ 0.5</tspan><tspan x="1513.7" dy="20">gini = 0.844</tspan><tspan x="1513.7" dy="20">samples = 16</tspan><tspan x="1513.7" dy="20">value = [0, 3, 0, 0, 0, 0, 0, 0, 3, 0, 3, 0, 0, 2</tspan><tspan x="1513.7" dy="20">1, 0, 0, 2, 0, 2, 0]</tspan><tspan x="1513.7" dy="20">class = Breast cancer</tspan></text></g>
<g id="node-42" class="nd"><rect class="i" x="2012.55" y="1792.65" width="430.9" height="151" rx="14"/><text y="1813.65"><tspan x="2228">node #42</tspan><tspan x="2228" dy="20">BRMS1 ≤ 0.35</tspan><tspan x="2228" dy="20">gini = 0.876</tspan><tspan x="2228" dy="20">samples = 45</tspan><tspan x="2228" dy="20">value = [0, 8, 0, 0, 0, 6, 0, 0, 3, 0, 4, 7, 7, 4</tspan><tspan x="2228" dy="20">1, 0, 0, 1, 0, 3, 1]</tspan><tspan x="2228" dy="20">class = Breast cancer</tspan></text></g>
<g id="node-63" class="nd"><rect class="hn" x="2468.4" y="1802.65" width="442.8" height="131" rx="14"/><text y="1823.65"><tspan x="2689.8">node #63</tspan><tspan x="2689.8" dy="20">gini = 0.0</tspan><tspan x="2689.8" dy="20">samples = 18</tspan><tspan x="2689.8" dy="20">value = [0, 0, 0, 0, 0, 0, 0, 18, 0, 0, 0, 0, 0, 0</tspan><tspan x="2689.8" dy="20">0, 0, 0, 0, 0, 0, 0]</tspan><tspan x="2689.8" dy="20">class = Head and Neck Cancer</tspan></text></g>
<g id="node-17" class="nd"><rect class="i" x="1017.25" y="1991.3" width="430.9" height="151" rx="14"/><text y="2012.3"><tspan x="1232.7">node #17</tspan><tspan x="1232.7" dy="20">HDCMC04P ≤ 0.5</tspan><tspan x="1232.7" dy="20">gini = 0.817</tspan><tspan x="1232.7" dy="20">samples = 13</tspan><tspan x="1232.7" dy="20">value = [0, 3, 0, 0, 0, 0, 0, 0, 3, 0, 0, 0, 0, 2</tspan><tspan x="1232.7" dy="20">1, 0, 0, 2, 0, 2, 0]</tspan><tspan x="1232.7" dy="20">class = Breast cancer</tspan></text></g>
<g id="node-28" class="nd"><rect class="lym" x="1471.75" y="2001.3" width="430.9" height="131" rx="14"/><text y="2022.3"><tspan x="1687.2">node #28</tspan><tspan x="1687.2" dy="20">gini = 0.0</tspan><tspan x="1687.2" dy="20">samples = 3</tspan><tspan x="1687.2" dy="20">value = [0, 0, 0, 0, 0, 0, 0, 0, 0, 0, 3, 0, 0, 0</tspan><tspan x="1687.2" dy="20">0, 0, 0, 0, 0, 0, 0]</tspan><tspan x="1687.2" dy="20">class = Lymphoma</tspan></text></g>
<g id="node-43" class="nd"><rect class="i" x="1926.25" y="1991.3" width="430.9" height="151" rx="14"/><text y="2012.3"><tspan x="2141.7">node #43</tspan><tspan x="2141.7" dy="20">CXorf34 ≤ 0.556</tspan><tspan x="2141.7" dy="20">gini = 0.863</tspan><tspan x="2141.7" dy="20">samples = 37</tspan><tspan x="2141.7" dy="20">value = [0, 0, 0, 0, 0, 6, 0, 0, 3, 0, 4, 7, 7, 4</tspan><tspan x="2141.7" dy="20">1, 0, 0, 1, 0, 3, 1]</tspan><tspan x="2141.7" dy="20">class = Melanoma</tspan></text></g>
<g id="node-62" class="nd"><rect class="bre" x="2381.15" y="2001.3" width="430.9" height="131" rx="14"/><text y="2022.3"><tspan x="2596.6">node #62</tspan><tspan x="2596.6" dy="20">gini = 0.0</tspan><tspan x="2596.6" dy="20">samples = 8</tspan><tspan x="2596.6" dy="20">value = [0, 8, 0, 0, 0, 0, 0, 0, 0, 0, 0, 0, 0, 0</tspan><tspan x="2596.6" dy="20">0, 0, 0, 0, 0, 0, 0]</tspan><tspan x="2596.6" dy="20">class = Breast cancer</tspan></text></g>
<g id="node-18" class="nd"><rect class="i" x="790.05" y="2189.95" width="430.9" height="151" rx="14"/><text y="2210.95"><tspan x="1005.5">node #18</tspan><tspan x="1005.5" dy="20">FLJ90231 ≤ 0.381</tspan><tspan x="1005.5" dy="20">gini = 0.78</tspan><tspan x="1005.5" dy="20">samples = 10</tspan><tspan x="1005.5" dy="20">value = [0, 3, 0, 0, 0, 0, 0, 0, 0, 0, 0, 0, 0, 2</tspan><tspan x="1005.5" dy="20">1, 0, 0, 2, 0, 2, 0]</tspan><tspan x="1005.5" dy="20">class = Breast cancer</tspan></text></g>
<g id="node-27" class="nd"><rect class="liv" x="1244.95" y="2199.95" width="430.9" height="131" rx="14"/><text y="2220.95"><tspan x="1460.4">node #27</tspan><tspan x="1460.4" dy="20">gini = 0.0</tspan><tspan x="1460.4" dy="20">samples = 3</tspan><tspan x="1460.4" dy="20">value = [0, 0, 0, 0, 0, 0, 0, 0, 3, 0, 0, 0, 0, 0</tspan><tspan x="1460.4" dy="20">0, 0, 0, 0, 0, 0, 0]</tspan><tspan x="1460.4" dy="20">class = Liver Cancer</tspan></text></g>
<g id="node-44" class="nd"><rect class="i" x="1699.55" y="2189.95" width="430.9" height="151" rx="14"/><text y="2210.95"><tspan x="1915">node #44</tspan><tspan x="1915" dy="20">erg3 ≤ 0.5</tspan><tspan x="1915" dy="20">gini = 0.847</tspan><tspan x="1915" dy="20">samples = 30</tspan><tspan x="1915" dy="20">value = [0, 0, 0, 0, 0, 6, 0, 0, 3, 0, 4, 0, 7, 4</tspan><tspan x="1915" dy="20">1, 0, 0, 1, 0, 3, 1]</tspan><tspan x="1915" dy="20">class = Ovarian Cancer</tspan></text></g>
<g id="node-61" class="nd"><rect class="mel" x="2154.45" y="2199.95" width="430.9" height="131" rx="14"/><text y="2220.95"><tspan x="2369.9">node #61</tspan><tspan x="2369.9" dy="20">gini = 0.0</tspan><tspan x="2369.9" dy="20">samples = 7</tspan><tspan x="2369.9" dy="20">value = [0, 0, 0, 0, 0, 0, 0, 0, 0, 0, 0, 7, 0, 0</tspan><tspan x="2369.9" dy="20">0, 0, 0, 0, 0, 0, 0]</tspan><tspan x="2369.9" dy="20">class = Melanoma</tspan></text></g>
<g id="node-19" class="nd"><rect class="i" x="506.25" y="2388.6" width="430.9" height="151" rx="14"/><text y="2409.6"><tspan x="721.7">node #19</tspan><tspan x="721.7" dy="20">GADD34 ≤ 0.167</tspan><tspan x="721.7" dy="20">gini = 0.735</tspan><tspan x="721.7" dy="20">samples = 7</tspan><tspan x="721.7" dy="20">value = [0, 0, 0, 0, 0, 0, 0, 0, 0, 0, 0, 0, 0, 2</tspan><tspan x="721.7" dy="20">1, 0, 0, 2, 0, 2, 0]</tspan><tspan x="721.7" dy="20">class = Pancreatic Cancer</tspan></text></g>
<g id="node-26" class="nd"><rect class="bre" x="960.15" y="2398.6" width="430.9" height="131" rx="14"/><text y="2419.6"><tspan x="1175.6">node #26</tspan><tspan x="1175.6" dy="20">gini = 0.0</tspan><tspan x="1175.6" dy="20">samples = 3</tspan><tspan x="1175.6" dy="20">value = [0, 3, 0, 0, 0, 0, 0, 0, 0, 0, 0, 0, 0, 0</tspan><tspan x="1175.6" dy="20">0, 0, 0, 0, 0, 0, 0]</tspan><tspan x="1175.6" dy="20">class = Breast cancer</tspan></text></g>
<g id="node-45" class="nd"><rect class="i" x="1528.85" y="2388.6" width="430.9" height="151" rx="14"/><text y="2409.6"><tspan x="1744.3">node #45</tspan><tspan x="1744.3" dy="20">PP5.1 ≤ 0.25</tspan><tspan x="1744.3" dy="20">gini = 0.832</tspan><tspan x="1744.3" dy="20">samples = 23</tspan><tspan x="1744.3" dy="20">value = [0, 0, 0, 0, 0, 6, 0, 0, 3, 0, 4, 0, 0, 4</tspan><tspan x="1744.3" dy="20">1, 0, 0, 1, 0, 3, 1]</tspan><tspan x="1744.3" dy="20">class = Endometrial Cancer</tspan></text></g>
<g id="node-60" class="nd"><rect class="ova" x="1983.65" y="2398.6" width="430.9" height="131" rx="14"/><text y="2419.6"><tspan x="2199.1">node #60</tspan><tspan x="2199.1" dy="20">gini = 0.0</tspan><tspan x="2199.1" dy="20">samples = 7</tspan><tspan x="2199.1" dy="20">value = [0, 0, 0, 0, 0, 0, 0, 0, 0, 0, 0, 0, 7, 0</tspan><tspan x="2199.1" dy="20">0, 0, 0, 0, 0, 0, 0]</tspan><tspan x="2199.1" dy="20">class = Ovarian Cancer</tspan></text></g>
<g id="node-20" class="nd"><rect class="i" x="288.65" y="2587.25" width="430.9" height="151" rx="14"/><text y="2608.25"><tspan x="504.1">node #20</tspan><tspan x="504.1" dy="20">C-1 ≤ 0.3</tspan><tspan x="504.1" dy="20">gini = 0.64</tspan><tspan x="504.1" dy="20">samples = 5</tspan><tspan x="504.1" dy="20">value = [0, 0, 0, 0, 0, 0, 0, 0, 0, 0, 0, 0, 0, 2</tspan><tspan x="504.1" dy="20">1, 0, 0, 2, 0, 0, 0]</tspan><tspan x="504.1" dy="20">class = Pancreatic Cancer</tspan></text></g>
<g id="node-25" class="nd"><rect class="thy" x="743.55" y="2597.25" width="430.9" height="131" rx="14"/><text y="2618.25"><tspan x="959">node #25</tspan><tspan x="959" dy="20">gini = 0.0</tspan><tspan x="959" dy="20">samples = 2</tspan><tspan x="959" dy="20">value = [0, 0, 0, 0, 0, 0, 0, 0, 0, 0, 0, 0, 0, 0</tspan><tspan x="959" dy="20">0, 0, 0, 0, 0, 2, 0]</tspan><tspan x="959" dy="20">class = Thyroid Cancer</tspan></text></g>
<g id="node-46" class="nd"><rect class="i" x="1486.85" y="2587.25" width="430.9" height="151" rx="14"/><text y="2608.25"><tspan x="1702.3">node #46</tspan><tspan x="1702.3" dy="20">Tissue ≤ 52.0</tspan><tspan x="1702.3" dy="20">gini = 0.817</tspan><tspan x="1702.3" dy="20">samples = 17</tspan><tspan x="1702.3" dy="20">value = [0, 0, 0, 0, 0, 0, 0, 0, 3, 0, 4, 0, 0, 4</tspan><tspan x="1702.3" dy="20">1, 0, 0, 1, 0, 3, 1]</tspan><tspan x="1702.3" dy="20">class = Lymphoma</tspan></text></g>
<g id="node-59" class="nd"><rect class="endo" x="1941.15" y="2597.25" width="430.9" height="131" rx="14"/><text y="2618.25"><tspan x="2156.6">node #59</tspan><tspan x="2156.6" dy="20">gini = 0.0</tspan><tspan x="2156.6" dy="20">samples = 6</tspan><tspan x="2156.6" dy="20">value = [0, 0, 0, 0, 0, 6, 0, 0, 0, 0, 0, 0, 0, 0</tspan><tspan x="2156.6" dy="20">0, 0, 0, 0, 0, 0, 0]</tspan><tspan x="2156.6" dy="20">class = Endometrial Cancer</tspan></text></g>
<g id="node-21" class="nd"><rect class="sto" x="4.85" y="2795.9" width="430.9" height="131" rx="14"/><text y="2816.9"><tspan x="220.3">node #21</tspan><tspan x="220.3" dy="20">gini = 0.0</tspan><tspan x="220.3" dy="20">samples = 2</tspan><tspan x="220.3" dy="20">value = [0, 0, 0, 0, 0, 0, 0, 0, 0, 0, 0, 0, 0, 0</tspan><tspan x="220.3" dy="20">0, 0, 0, 2, 0, 0, 0]</tspan><tspan x="220.3" dy="20">class = Stomach Cancer</tspan></text></g>
<g id="node-22" class="nd"><rect class="i" x="459.65" y="2785.9" width="430.9" height="151" rx="14"/><text y="2806.9"><tspan x="675.1">node #22</tspan><tspan x="675.1" dy="20">ANG2 ≤ 0.15</tspan><tspan x="675.1" dy="20">gini = 0.444</tspan><tspan x="675.1" dy="20">samples = 3</tspan><tspan x="675.1" dy="20">value = [0, 0, 0, 0, 0, 0, 0, 0, 0, 0, 0, 0, 0, 2</tspan><tspan x="675.1" dy="20">1, 0, 0, 0, 0, 0, 0]</tspan><tspan x="675.1" dy="20">class = Pancreatic Cancer</tspan></text></g>
<g id="node-47" class="nd"><rect class="i" x="1464.55" y="2785.9" width="430.9" height="151" rx="14"/><text y="2806.9"><tspan x="1680">node #47</tspan><tspan x="1680" dy="20">ACT35 ≤ 0.1</tspan><tspan x="1680" dy="20">gini = 0.781</tspan><tspan x="1680" dy="20">samples = 13</tspan><tspan x="1680" dy="20">value = [0, 0, 0, 0, 0, 0, 0, 0, 3, 0, 4, 0, 0, 0</tspan><tspan x="1680" dy="20">1, 0, 0, 1, 0, 3, 1]</tspan><tspan x="1680" dy="20">class = Lymphoma</tspan></text></g>
<g id="node-58" class="nd"><rect class="pan" x="1918.55" y="2795.9" width="430.9" height="131" rx="14"/><text y="2816.9"><tspan x="2134">node #58</tspan><tspan x="2134" dy="20">gini = 0.0</tspan><tspan x="2134" dy="20">samples = 4</tspan><tspan x="2134" dy="20">value = [0, 0, 0, 0, 0, 0, 0, 0, 0, 0, 0, 0, 0, 4</tspan><tspan x="2134" dy="20">0, 0, 0, 0, 0, 0, 0]</tspan><tspan x="2134" dy="20">class = Pancreatic Cancer</tspan></text></g>
<g id="node-23" class="nd"><rect class="pro" x="90.75" y="2994.55" width="430.9" height="131" rx="14"/><text y="3015.55"><tspan x="306.2">node #23</tspan><tspan x="306.2" dy="20">gini = 0.0</tspan><tspan x="306.2" dy="20">samples = 1</tspan><tspan x="306.2" dy="20">value = [0, 0, 0, 0, 0, 0, 0, 0, 0, 0, 0, 0, 0, 0</tspan><tspan x="306.2" dy="20">1, 0, 0, 0, 0, 0, 0]</tspan><tspan x="306.2" dy="20">class = Prostate Cancer</tspan></text></g>
<g id="node-24" class="nd"><rect class="pan" x="545.65" y="2994.55" width="430.9" height="131" rx="14"/><text y="3015.55"><tspan x="761.1">node #24</tspan><tspan x="761.1" dy="20">gini = 0.0</tspan><tspan x="761.1" dy="20">samples = 2</tspan><tspan x="761.1" dy="20">value = [0, 0, 0, 0, 0, 0, 0, 0, 0, 0, 0, 0, 0, 2</tspan><tspan x="761.1" dy="20">0, 0, 0, 0, 0, 0, 0]</tspan><tspan x="761.1" dy="20">class = Pancreatic Cancer</tspan></text></g>
<g id="node-48" class="nd"><rect class="i" x="1226.45" y="2984.55" width="430.9" height="151" rx="14"/><text y="3005.55"><tspan x="1441.9">node #48</tspan><tspan x="1441.9" dy="20">B3GN-T1 ≤ 0.479</tspan><tspan x="1441.9" dy="20">gini = 0.741</tspan><tspan x="1441.9" dy="20">samples = 9</tspan><tspan x="1441.9" dy="20">value = [0, 0, 0, 0, 0, 0, 0, 0, 3, 0, 0, 0, 0, 0</tspan><tspan x="1441.9" dy="20">1, 0, 0, 1, 0, 3, 1]</tspan><tspan x="1441.9" dy="20">class = Liver Cancer</tspan></text></g>
<g id="node-57" class="nd"><rect class="lym" x="1680.45" y="2994.55" width="430.9" height="131" rx="14"/><text y="3015.55"><tspan x="1895.9">node #57</tspan><tspan x="1895.9" dy="20">gini = 0.0</tspan><tspan x="1895.9" dy="20">samples = 4</tspan><tspan x="1895.9" dy="20">value = [0, 0, 0, 0, 0, 0, 0, 0, 0, 0, 4, 0, 0, 0</tspan><tspan x="1895.9" dy="20">0, 0, 0, 0, 0, 0, 0]</tspan><tspan x="1895.9" dy="20">class = Lymphoma</tspan></text></g>
<g id="node-49" class="nd"><rect class="i" x="999.45" y="3183.2" width="430.9" height="151" rx="14"/><text y="3204.2"><tspan x="1214.9">node #49</tspan><tspan x="1214.9" dy="20">AC008770.2 ≤ 0.167</tspan><tspan x="1214.9" dy="20">gini = 0.667</tspan><tspan x="1214.9" dy="20">samples = 6</tspan><tspan x="1214.9" dy="20">value = [0, 0, 0, 0, 0, 0, 0, 0, 0, 0, 0, 0, 0, 0</tspan><tspan x="1214.9" dy="20">1, 0, 0, 1, 0, 3, 1]</tspan><tspan x="1214.9" dy="20">class = Thyroid Cancer</tspan></text></g>
<g id="node-56" class="nd"><rect class="liv" x="1454.45" y="3193.2" width="430.9" height="131" rx="14"/><text y="3214.2"><tspan x="1669.9">node #56</tspan><tspan x="1669.9" dy="20">gini = 0.0</tspan><tspan x="1669.9" dy="20">samples = 3</tspan><tspan x="1669.9" dy="20">value = [0, 0, 0, 0, 0, 0, 0, 0, 3, 0, 0, 0, 0, 0</tspan><tspan x="1669.9" dy="20">0, 0, 0, 0, 0, 0, 0]</tspan><tspan x="1669.9" dy="20">class = Liver Cancer</tspan></text></g>
<g id="node-50" class="nd"><rect class="i" x="773.45" y="3381.85" width="430.9" height="151" rx="14"/><text y="3402.85"><tspan x="988.9">node #50</tspan><tspan x="988.9" dy="20">MYO1B ≤ 0.25</tspan><tspan x="988.9" dy="20">gini = 0.667</tspan><tspan x="988.9" dy="20">samples = 3</tspan><tspan x="988.9" dy="20">value = [0, 0, 0, 0, 0, 0, 0, 0, 0, 0, 0, 0, 0, 0</tspan><tspan x="988.9" dy="20">1, 0, 0, 1, 0, 0, 1]</tspan><tspan x="988.9" dy="20">class = Prostate Cancer</tspan></text></g>
<g id="node-55" class="nd"><rect class="thy" x="1227.45" y="3391.85" width="430.9" height="131" rx="14"/><text y="3412.85"><tspan x="1442.9">node #55</tspan><tspan x="1442.9" dy="20">gini = 0.0</tspan><tspan x="1442.9" dy="20">samples = 3</tspan><tspan x="1442.9" dy="20">value = [0, 0, 0, 0, 0, 0, 0, 0, 0, 0, 0, 0, 0, 0</tspan><tspan x="1442.9" dy="20">0, 0, 0, 0, 0, 3, 0]</tspan><tspan x="1442.9" dy="20">class = Thyroid Cancer</tspan></text></g>
<g id="node-51" class="nd"><rect class="i" x="546.55" y="3580.5" width="430.9" height="151" rx="14"/><text y="3601.5"><tspan x="762">node #51</tspan><tspan x="762" dy="20">APOBEC1L ≤ 0.278</tspan><tspan x="762" dy="20">gini = 0.5</tspan><tspan x="762" dy="20">samples = 2</tspan><tspan x="762" dy="20">value = [0, 0, 0, 0, 0, 0, 0, 0, 0, 0, 0, 0, 0, 0</tspan><tspan x="762" dy="20">0, 0, 0, 1, 0, 0, 1]</tspan><tspan x="762" dy="20">class = Stomach Cancer</tspan></text></g>
<g id="node-54" class="nd"><rect class="pro" x="1001.05" y="3590.5" width="430.9" height="131" rx="14"/><text y="3611.5"><tspan x="1216.5">node #54</tspan><tspan x="1216.5" dy="20">gini = 0.0</tspan><tspan x="1216.5" dy="20">samples = 1</tspan><tspan x="1216.5" dy="20">value = [0, 0, 0, 0, 0, 0, 0, 0, 0, 0, 0, 0, 0, 0</tspan><tspan x="1216.5" dy="20">1, 0, 0, 0, 0, 0, 0]</tspan><tspan x="1216.5" dy="20">class = Prostate Cancer</tspan></text></g>
<g id="node-52" class="nd"><rect class="sto" x="319.55" y="3779.1" width="430.9" height="131" rx="14"/><text y="3800.1"><tspan x="535">node #52</tspan><tspan x="535" dy="20">gini = 0.0</tspan><tspan x="535" dy="20">samples = 1</tspan><tspan x="535" dy="20">value = [0, 0, 0, 0, 0, 0, 0, 0, 0, 0, 0, 0, 0, 0</tspan><tspan x="535" dy="20">0, 0, 0, 1, 0, 0, 0]</tspan><tspan x="535" dy="20">class = Stomach Cancer</tspan></text></g>
<g id="node-53" class="nd"><rect class="uro" x="774.05" y="3779.1" width="430.9" height="131" rx="14"/><text y="3800.1"><tspan x="989.5">node #53</tspan><tspan x="989.5" dy="20">gini = 0.0</tspan><tspan x="989.5" dy="20">samples = 1</tspan><tspan x="989.5" dy="20">value = [0, 0, 0, 0, 0, 0, 0, 0, 0, 0, 0, 0, 0, 0</tspan><tspan x="989.5" dy="20">0, 0, 0, 0, 0, 0, 1]</tspan><tspan x="989.5" dy="20">class = Urothelial Cancer</tspan></text></g>
</g>
</svg>
